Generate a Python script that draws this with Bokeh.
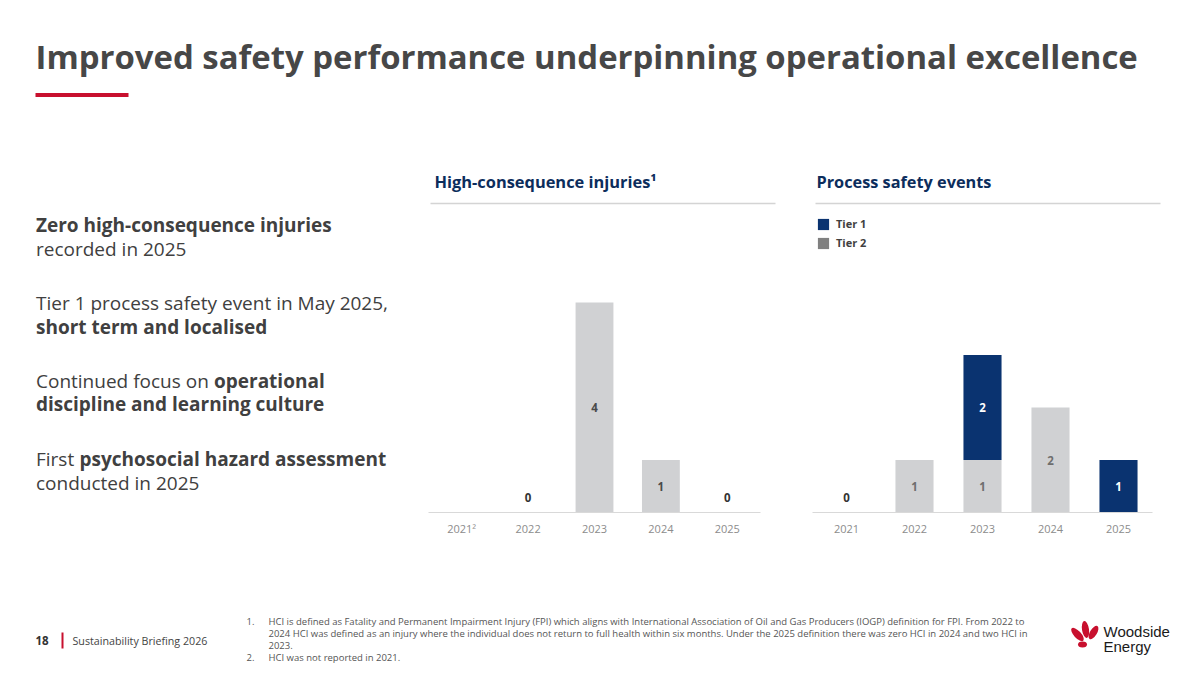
import math
from bokeh.plotting import figure
from bokeh.layouts import column, row
from bokeh.models import Range1d, FactorRange, ColumnDataSource, Legend, LegendItem
from bokeh.core.properties import value
from bokeh.embed import file_html
from bokeh.resources import INLINE

# ---------------- data ----------------
years = ["2021", "2022", "2023", "2024", "2025"]
year_tick_labels = {"2021": "2021\u00b2"}
hci = [float("nan"), 0, 4, 1, 0]          # 2021 not reported
tier1 = [0, 0, 2, 0, 1]
tier2 = [0, 1, 1, 2, 0]

title_text = "Improved safety performance underpinning operational excellence"
hci_title = "High-consequence injuries\u00b9"
pse_title = "Process safety events"
series_names = ["Tier 1", "Tier 2"]

FONT = "Open Sans"
NAVY = "#0A3370"
GREY_BAR = "#D0D1D3"
RED = "#C8102E"
TXT = "#404040"

PX_PER_UNIT = 52.5
BASE_Y = 512      # slide pixel of the bar baseline
TOP_Y = 205       # slide pixel of top of the chart band


def canvas(w, h, x0, x1, y0, y1, **kw):
    p = figure(width=w, height=h, x_range=Range1d(x0, x1), y_range=Range1d(y1, y0),
               toolbar_location=None, output_backend="svg", min_border=0,
               x_axis_location=None, y_axis_location=None, **kw)
    p.outline_line_color = None
    p.xgrid.visible = False
    p.ygrid.visible = False
    p.background_fill_color = "white"
    p.border_fill_color = "white"
    return p


def put(p, x, y, t, size, color=TXT, bold=False, font=FONT, align="left"):
    p.text(x=[x], y=[y], text=[t], text_font=value(font), text_font_size=size,
           text_color=color, text_font_style="bold" if bold else "normal",
           text_align=align, text_baseline="middle")


# ---------------- top band ----------------
top = canvas(1184, TOP_Y, 0, 1184, 0, TOP_Y)
put(top, 35, 56, title_text, "32.9px", color="#474747", bold=True)
top.segment(x0=[35], y0=[94.5], x1=[128], y1=[94.5], line_width=4, line_color=RED)
put(top, 434, 181, hci_title, "16.4px", color="#0C2D5C", bold=True)
put(top, 816, 181, pse_title, "16.3px", color="#0C2D5C", bold=True)
top.segment(x0=[430, 815], y0=[203, 203], x1=[775, 1160], y1=[203, 203],
            line_width=1.5, line_color="#D4D4D4")

# ---------------- left text ----------------
left = canvas(420, 355, 0, 420, TOP_Y, BASE_Y, min_border_bottom=560 - BASE_Y)
put(left, 35.5, 224, "Zero high-consequence injuries", "19px", bold=True)
put(left, 35.5, 248, "recorded in 2025", "19px")
put(left, 35.5, 302, "Tier 1 process safety event in May 2025,", "19px")
put(left, 35.5, 326, "short term and localised", "19px", bold=True)
put(left, 35.5, 380, "Continued focus on ", "19px")
put(left, 213.5, 380, "operational", "19px", bold=True)
put(left, 35.5, 403, "discipline and learning culture", "19px", bold=True)
put(left, 35.5, 458, "First ", "19px")
put(left, 79, 458, "psychosocial hazard assessment", "19px", bold=True)
put(left, 35.5, 482, "conducted in 2025", "19px")


def chart(width, border_l, border_r, factors, standoff):
    p = figure(width=width, height=355, x_range=FactorRange(factors=factors),
               y_range=Range1d(0, (BASE_Y - TOP_Y) / PX_PER_UNIT), toolbar_location=None,
               output_backend="svg", y_axis_location=None,
               min_border_left=border_l, min_border_right=border_r,
               min_border_top=0, min_border_bottom=560 - BASE_Y)
    p.outline_line_color = None
    p.xgrid.visible = False
    p.ygrid.visible = False
    ax = p.xaxis[0]
    ax.axis_line_color = "#D9D9D9"
    ax.axis_line_width = 1.2
    ax.major_tick_line_color = None
    ax.minor_tick_line_color = None
    ax.major_label_text_font = FONT
    ax.major_label_text_font_size = "11px"
    ax.major_label_text_color = "#8C8C8C"
    ax.major_label_standoff = standoff
    return p


ZERO_OFF = 15 / PX_PER_UNIT

# ---------------- chart 1 : HCI ----------------
years1 = [year_tick_labels.get(y, y) for y in years]
p1 = chart(370, 8, 30, years1, 2)
src1 = ColumnDataSource(dict(year=years1, hci=hci))
p1.vbar(x="year", top="hci", width=0.57, source=src1, fill_color=GREY_BAR, line_color=None)
lx, ly, lt, lc = [], [], [], []
for yr, v in zip(years1, hci):
    if isinstance(v, float) and math.isnan(v):
        continue
    lx.append(yr)
    lt.append(str(int(v)))
    if v == 0:
        ly.append(ZERO_OFF)
        lc.append("#333333")
    else:
        ly.append(v / 2)
        lc.append("#4A4A4A")
p1.text(x=lx, y=ly, text=lt, text_color=lc, text_font=value(FONT), text_font_size="11.5px",
        text_font_style="bold", text_align="center", text_baseline="middle")

# ---------------- chart 2 : PSE ----------------
p2 = chart(394, 22, 32, years, 6)
src2 = ColumnDataSource(dict(year=years, tier1=tier1, tier2=tier2))
p2.vbar_stack(["tier2", "tier1"], x="year", width=0.56, source=src2,
              fill_color=[GREY_BAR, NAVY], line_color=None)
mx, my, mt, mc = [], [], [], []
for yr, a, b in zip(years, tier1, tier2):
    if a + b == 0:
        mx.append(yr); my.append(ZERO_OFF); mt.append("0"); mc.append("#333333")
        continue
    if b > 0:
        mx.append(yr); my.append(b / 2); mt.append(str(b)); mc.append("#6E6E6E")
    if a > 0:
        mx.append(yr); my.append(b + a / 2); mt.append(str(a)); mc.append("#FFFFFF")
p2.text(x=mx, y=my, text=mt, text_color=mc, text_font=value(FONT), text_font_size="11.5px",
        text_font_style="bold", text_align="center", text_baseline="middle")

# legend proxies (kept outside the visible y range, only their swatches are shown)
r_t1 = p2.rect(x=[years[0]], y=[-10], width=0.1, height=0.1, fill_color=NAVY, line_color=None)
r_t2 = p2.rect(x=[years[0]], y=[-10], width=0.1, height=0.1, fill_color="#808080", line_color=None)
legend = Legend(items=[LegendItem(label=series_names[0], renderers=[r_t1]),
                       LegendItem(label=series_names[1], renderers=[r_t2])],
                location=(4, BASE_Y - 250), orientation="vertical",
                glyph_width=14, glyph_height=14, label_height=14, spacing=4,
                padding=0, margin=0, border_line_color=None, background_fill_alpha=0,
                label_text_font=FONT, label_text_font_size="11px",
                label_text_font_style="bold", label_text_color="#404040",
                label_standoff=6)
p2.add_layout(legend)

# ---------------- footer ----------------
foot = canvas(1184, 667 - 560, 0, 1184, 560, 667)
put(foot, 35, 640, "18", "11.5px", color="#333333", bold=True)
foot.segment(x0=[62], y0=[632], x1=[62], y1=[648], line_width=2, line_color=RED)
put(foot, 72, 640, "Sustainability Briefing 2026", "10.7px", color="#444444")
notes = [
    ("1.", "HCI is defined as Fatality and Permanent Impairment Injury (FPI) which aligns with International Association of Oil and Gas Producers (IOGP) definition for FPI. From 2022 to"),
    ("", "2024 HCI was defined as an injury where the individual does not return to full health within six months. Under the 2025 definition there was zero HCI in 2024 and two HCI in"),
    ("", "2023."),
    ("2.", "HCI was not reported in 2021."),
]
for i, (num, line) in enumerate(notes):
    yy = 621 + 12 * i
    if num:
        put(foot, 246, yy, num, "9.5px", color="#555555")
    put(foot, 268, yy, line, "9.5px", color="#555555")

# logo (decorative)
foot.ellipse(x=[1077, 1085, 1093, 1082], y=[634, 629, 632, 644],
             width=[7, 7, 7, 9], height=[17, 17, 15, 6],
             angle=[0.75, 0.15, -0.55, 0.0], fill_color=RED, line_color=None)
put(foot, 1103, 631, "Woodside", "15px", color="#1A1A1A", font="Liberation Sans")
put(foot, 1103, 646, "Energy", "15px", color="#1A1A1A", font="Liberation Sans")

layout = column(top, row(left, p1, p2), foot)
open("out.html", "w").write(file_html(layout, INLINE))
